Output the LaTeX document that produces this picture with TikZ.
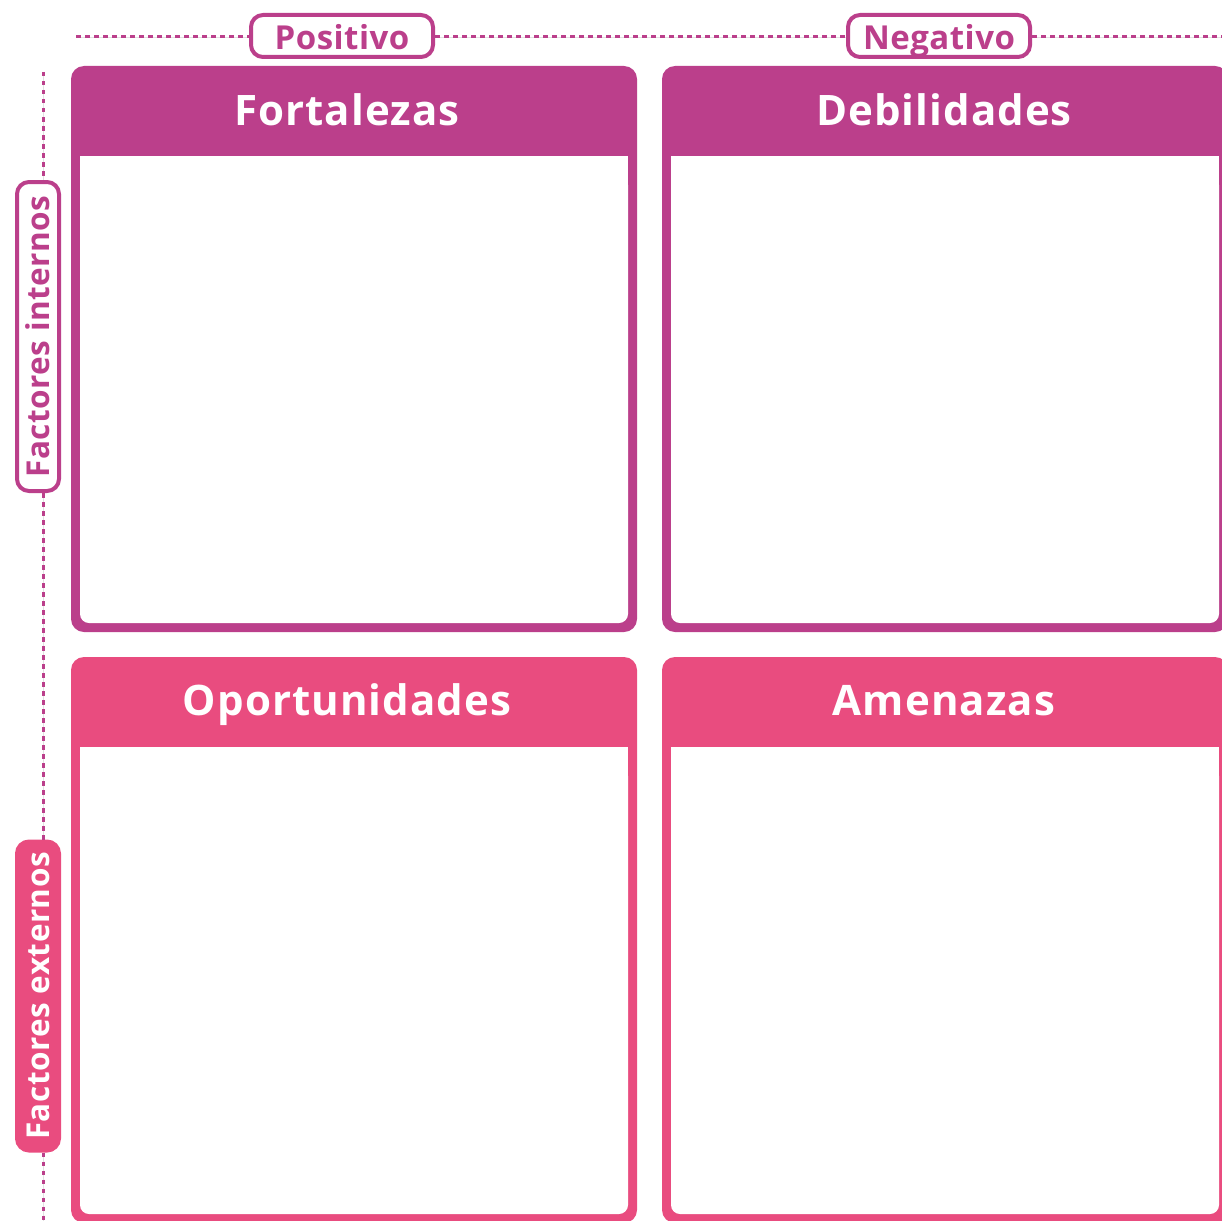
\documentclass[tikz,border=0pt]{standalone}
\usepackage{fontspec}
\setmainfont{Open Sans}
\newfontfamily\hdfont[LetterSpace=2.5]{Open Sans}
\newfontfamily\tgfont[LetterSpace=1.5]{Open Sans}
\definecolor{purp}{HTML}{BB3F8B}
\definecolor{pnk}{HTML}{E94C7F}
\tikzset{
  dotline/.style={purp, line width=3pt, dash pattern=on 4.5pt off 4.5pt},
  faint/.style={black!12, line width=0.6pt},
  tag/.style={draw=purp, line width=4pt, fill=white, rounded corners=12pt, text=purp,
    font=\tgfont\fontsize{33}{40}\selectfont\bfseries, inner sep=0pt,
    text height=28pt, text depth=0pt, minimum width=182pt, minimum height=42pt},
  vtag/.style={draw=#1, line width=4pt, rounded corners=12pt, rotate=90,
    font=\tgfont\fontsize{31.5}{38}\selectfont\bfseries, inner sep=0pt,
    text height=23pt, text depth=0pt, minimum width=309pt, minimum height=42pt},
  head/.style={text=white, font=\hdfont\fontsize{42}{50}\selectfont\bfseries, inner sep=0pt, anchor=base},
  pics/swot/.style={code={
    \fill[#1, rounded corners=13pt] (0,0) rectangle (566,566);
    \fill[white, rounded corners=9pt] (9,110) rectangle (557,557);
    \fill[white] (9,90) rectangle (557,130);
  }}
}
\begin{document}
\begin{tikzpicture}[x=1pt,y=-1pt]
\useasboundingbox (0,0) rectangle (1222,1220);
\clip (0,0) rectangle (1222,1220);
% panels
\pic at (71,66) {swot=purp};
\pic at (662,66) {swot=purp};
\pic at (71,657) {swot=pnk};
\pic at (662,657) {swot=pnk};
% headings
\node[head] (fort) at (347,125) {Fortalezas};
\node[head] (deb) at (944,125) {Debilidades};
\node[head] (opo) at (347,715) {Oportunidades};
\node[head] (ame) at (944,715) {Amenazas};
% tags
\node[tag] (pos) at (342,36) {Positivo};
\node[tag] (neg) at (939,36) {Negativo};
\node[vtag=purp, fill=white, text=purp] (int) at (38,336.5) {Factores internos};
\node[vtag=pnk, fill=pnk, text=white] (ext) at (38,996) {Factores externos};
% guide lines
\coordinate (tl) at (76,37);
\coordinate (tr) at (1224,37);
\coordinate (lt) at (43,72);
\coordinate (lb) at (43,1222);
\foreach \s in {faint,dotline}{
  \draw[\s] (tl) -- (tl -| pos.west);
  \draw[\s] (tl -| pos.east) -- (tl -| neg.west);
  \draw[\s] (tl -| neg.east) -- (tr);
  \draw[\s] (lt) -- (lt |- int.east);
  \draw[\s] (lt |- int.west) -- (lt |- ext.east);
  \draw[\s] (lt |- ext.west) -- (lb);
}
\end{tikzpicture}
\end{document}
